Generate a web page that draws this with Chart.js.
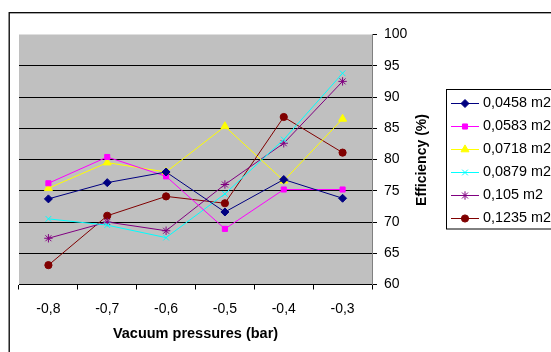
<!DOCTYPE html>
<html>
<head>
<meta charset="utf-8">
<script src="https://cdn.jsdelivr.net/npm/chart.js@4"></script>
<style>
  html, body { margin: 0; padding: 0; background: #fff; }
  #wrap { width: 551px; height: 352px; position: relative; }
</style>
</head>
<body>
<div id="wrap"><canvas id="c" width="551" height="352"></canvas></div>
<script>
const categories = ['-0,8', '-0,7', '-0,6', '-0,5', '-0,4', '-0,3'];
const seriesNames = ['0,0458 m2', '0,0583 m2', '0,0718 m2', '0,0879 m2', '0,105 m2', '0,1235 m2'];
const s0458 = [73.7, 76.3, 78.0, 71.6, 76.8, 73.8];
const s0583 = [76.2, 80.4, 77.3, 68.9, 75.2, 75.2];
const s0718 = [75.4, 79.5, 78.0, 85.3, 76.6, 86.5];
const s0879 = [70.5, 69.5, 67.5, 74.5, 83.2, 93.8];
const s105  = [67.4, 70.0, 68.6, 76.0, 82.6, 92.5];
const s1235 = [63.1, 71.0, 74.1, 73.0, 86.8, 81.1];
const yMin = 60, yMax = 100, yStep = 5;

const seriesValues = [s0458, s0583, s0718, s0879, s105, s1235];
const colors = ['#000080', '#FF00FF', '#FFFF00', '#00FFFF', '#800080', '#800000'];
const pStyles = ['rectRot', 'rect', 'triangle', 'crossRot', 'star', 'circle'];
const pRadius = [4, 3.6, 4.6, 4, 4.2, 3.6];
const FONT = 'Arial, "Liberation Sans", sans-serif';

const datasets = seriesValues.map((vals, i) => ({
  label: seriesNames[i],
  data: vals,
  borderColor: colors[i],
  backgroundColor: colors[i],
  borderWidth: 1,
  pointStyle: pStyles[i],
  pointRadius: pRadius[i],
  pointHoverRadius: pRadius[i],
  pointBorderColor: colors[i],
  pointBackgroundColor: colors[i],
  pointBorderWidth: 1,
  tension: 0,
  fill: false
}));

const decor = {
  id: 'decor',
  beforeDraw(chart) {
    const ctx = chart.ctx, a = chart.chartArea;
    ctx.save();
    ctx.fillStyle = '#fff';
    ctx.fillRect(0, 0, chart.width, chart.height);
    ctx.fillStyle = '#C0C0C0';
    ctx.fillRect(a.left, a.top, a.right - a.left, a.bottom - a.top);
    // outer frame
    ctx.strokeStyle = '#000';
    ctx.lineWidth = 1.3;
    ctx.strokeRect(9.2, 12.7, 600, 400);
    ctx.restore();
  },
  afterDraw(chart) {
    const ctx = chart.ctx;
    ctx.save();
    // y title
    ctx.translate(421.7, 160);
    ctx.rotate(-Math.PI / 2);
    ctx.font = 'bold 14px ' + FONT;
    ctx.fillStyle = '#000';
    ctx.textAlign = 'center';
    ctx.textBaseline = 'middle';
    ctx.fillText('Efficiency (%)', 0, 0);
    ctx.restore();
    // legend
    ctx.save();
    ctx.strokeStyle = '#000';
    ctx.lineWidth = 1;
    ctx.strokeRect(446.5, 89.5, 200, 139.5);
    const ds = chart.data.datasets;
    ctx.font = '14.4px ' + FONT;
    ctx.textBaseline = 'middle';
    ctx.textAlign = 'left';
    ds.forEach((d, i) => {
      const y = 103 + i * 23;
      ctx.strokeStyle = d.borderColor;
      ctx.lineWidth = 1;
      ctx.beginPath();
      ctx.moveTo(451, Math.round(y) + 0.5);
      ctx.lineTo(479, Math.round(y) + 0.5);
      ctx.stroke();
      ctx.fillStyle = d.backgroundColor;
      Chart.helpers.drawPoint(ctx, {
        pointStyle: d.pointStyle, radius: d.pointRadius, borderWidth: 1, rotation: 0
      }, 465, Math.round(y) + 0.5);
      ctx.fillStyle = '#000';
      ctx.fillText(d.label, 483, y + 0.5);
    });
    ctx.restore();
  }
};

new Chart(document.getElementById('c'), {
  type: 'line',
  data: { labels: categories, datasets },
  plugins: [decor],
  options: {
    responsive: false,
    animation: false,
    events: [],
    layout: { padding: { left: 19, top: 34.5, right: 144, bottom: 9 } },
    plugins: { legend: { display: false }, tooltip: { enabled: false }, title: { display: false } },
    scales: {
      x: {
        offset: true,
        grid: { offset: true, drawOnChartArea: false, drawTicks: true, tickLength: 5, color: '#000', tickColor: '#000' },
        border: { color: '#000', width: 1 },
        ticks: { padding: 11, color: '#000', font: { family: FONT, size: 14 }, maxRotation: 0 },
        title: { display: true, text: 'Vacuum pressures (bar)', color: '#000',
                 font: { family: FONT, size: 14.5, weight: 'bold' }, padding: { top: 6, bottom: 0 } },
        afterFit: s => { s.height = 58.5; }
      },
      y: {
        position: 'right',
        min: yMin, max: yMax,
        ticks: { stepSize: yStep, padding: 7, color: '#000', font: { family: FONT, size: 14 } },
        grid: {
          color: c => (c.tick && (c.tick.value === yMin || c.tick.value === yMax)) ? 'rgba(0,0,0,0)' : '#000',
          tickColor: '#000', tickLength: 5, drawTicks: true
        },
        border: { color: '#808080', width: 1 },
        afterFit: s => { s.width = 35; }
      }
    }
  }
});
</script>
</body>
</html>
